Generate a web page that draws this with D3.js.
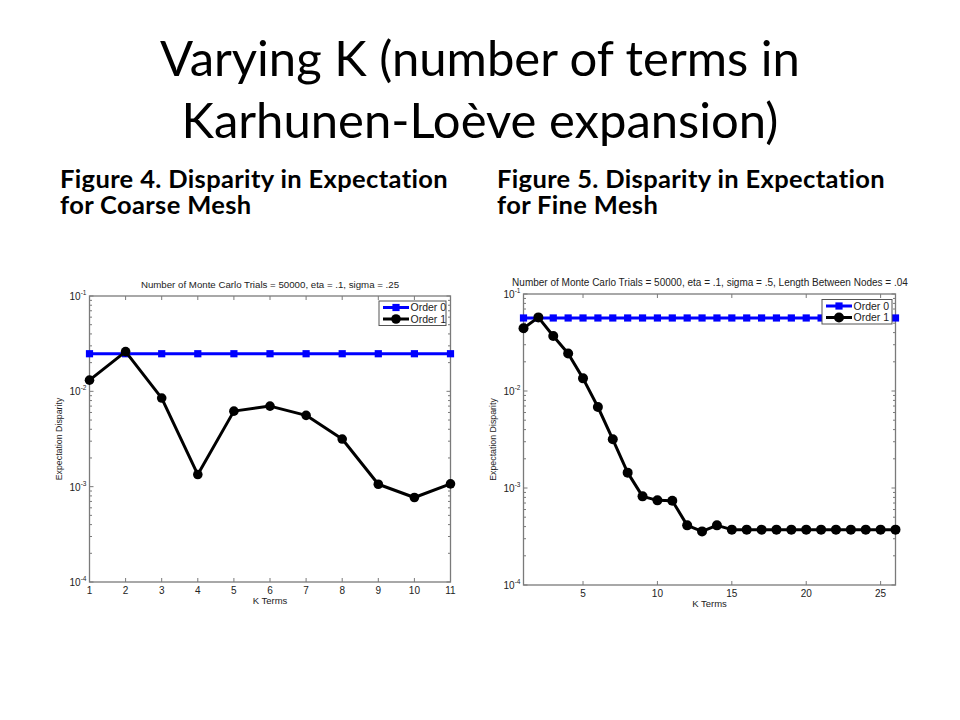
<!DOCTYPE html>
<html lang="en">
  <head>
    <meta charset="utf-8"/>
    <script src="https://d3js.org/d3.v7.min.js"></script>
    <style>
      body { margin: 0; background: #fff; }
      .slide-title { font-family: Lato, "Open Sans", sans-serif; font-size: 49px; fill: #000; text-anchor: middle; }
      .caption { font-family: Lato, "Open Sans", sans-serif; font-weight: bold; font-size: 25.5px; letter-spacing: 0.35px; fill: #000; }
      .panel text { font-family: "Liberation Sans", Arial, sans-serif; fill: #222; }
    </style>
  </head>
  <body>
    <svg id="slide" width="960" height="720"></svg>
  </body>
  <script>
    // coarse mesh (Figure 4)
    const coarseK = [1, 2, 3, 4, 5, 6, 7, 8, 9, 10, 11];
    const coarseOrder0 = [0.0248, 0.0248, 0.0248, 0.0248, 0.0248, 0.0248, 0.0248, 0.0248, 0.0248, 0.0248, 0.0248];
    const coarseOrder1 = [0.0131, 0.0261, 0.0085, 0.00134, 0.0062, 0.0070, 0.0056, 0.00316, 0.00106, 0.00077, 0.00107];
    const coarseXTicks = [1, 2, 3, 4, 5, 6, 7, 8, 9, 10, 11];

    // fine mesh (Figure 5)
    const fineK = [1, 2, 3, 4, 5, 6, 7, 8, 9, 10, 11, 12, 13, 14, 15, 16, 17, 18, 19, 20, 21, 22, 23, 24, 25, 26];
    const fineOrder0 = [0.0566, 0.0566, 0.0566, 0.0566, 0.0566, 0.0566, 0.0566, 0.0566, 0.0566, 0.0566, 0.0566, 0.0566, 0.0566,
                        0.0566, 0.0566, 0.0566, 0.0566, 0.0566, 0.0566, 0.0566, 0.0566, 0.0566, 0.0566, 0.0566, 0.0566, 0.0566];
    const fineOrder1 = [0.0443, 0.0574, 0.0369, 0.0244, 0.0135, 0.00684, 0.00318, 0.00144, 0.00082, 0.000746, 0.00074, 0.000412, 0.000357,
                        0.000412, 0.000372, 0.000372, 0.000372, 0.000372, 0.000372, 0.000372, 0.000372, 0.000372, 0.000372, 0.000372, 0.000372, 0.000372];
    const fineXTicks = [5, 10, 15, 20, 25];

    const yDecades = [1e-1, 1e-2, 1e-3, 1e-4];
    const yExponents = ["-1", "-2", "-3", "-4"];
    const legendNames = ["Order 0", "Order 1"];

    const svg = d3.select("#slide");
    svg.append("rect").attr("width", 960).attr("height", 720).attr("fill", "#fff");

    svg.append("text").attr("class", "slide-title").attr("x", 480).attr("y", 76)
      .text("Varying K (number of terms in");
    svg.append("text").attr("class", "slide-title").attr("x", 480).attr("y", 138)
      .text("Karhunen-Loève expansion)");

    // one text block per caption, lines as tspans
    function caption(x, lines) {
      const t = svg.append("text").attr("class", "caption").attr("x", x).attr("y", 188);
      lines.forEach(function(s, i) {
        t.append("tspan").attr("x", x).attr("dy", i === 0 ? 0 : 26).text(s);
      });
    }
    caption(60, ["Figure 4. Disparity in Expectation", "for Coarse Mesh"]);
    caption(497, ["Figure 5. Disparity in Expectation", "for Fine Mesh"]);

    function drawPanel(cfg) {
      const g = svg.append("g").attr("class", "panel");
      const x = d3.scaleLinear().domain(cfg.xDomain).range([cfg.left, cfg.right]);
      const y = d3.scaleLog().domain([1e-4, 1e-1]).range([cfg.bottom, cfg.top]);
      const axisColor = "#7a7a7a";

      // minor and major ticks on all four sides, pointing inward
      const minor = [];
      [1e-4, 1e-3, 1e-2].forEach(function(d) {
        for (let m = 2; m <= 9; m++) minor.push(d * m);
      });
      const ticks = g.append("g").attr("stroke", axisColor).attr("stroke-width", 1);
      minor.forEach(function(v) {
        ticks.append("line").attr("x1", cfg.left).attr("x2", cfg.left + 2.5).attr("y1", y(v)).attr("y2", y(v));
        ticks.append("line").attr("x1", cfg.right).attr("x2", cfg.right - 2.5).attr("y1", y(v)).attr("y2", y(v));
      });
      yDecades.forEach(function(v) {
        ticks.append("line").attr("x1", cfg.left).attr("x2", cfg.left + 4).attr("y1", y(v)).attr("y2", y(v));
        ticks.append("line").attr("x1", cfg.right).attr("x2", cfg.right - 4).attr("y1", y(v)).attr("y2", y(v));
      });
      cfg.xTicks.forEach(function(v) {
        ticks.append("line").attr("x1", x(v)).attr("x2", x(v)).attr("y1", cfg.bottom).attr("y2", cfg.bottom - 4);
        ticks.append("line").attr("x1", x(v)).attr("x2", x(v)).attr("y1", cfg.top).attr("y2", cfg.top + 4);
      });

      g.append("rect")
        .attr("x", cfg.left).attr("y", cfg.top)
        .attr("width", cfg.right - cfg.left).attr("height", cfg.bottom - cfg.top)
        .attr("fill", "none").attr("stroke", axisColor).attr("stroke-width", 1.3);

      // tick labels
      g.selectAll(".xlab").data(cfg.xTicks).enter().append("text")
        .attr("x", function(d) { return x(d); })
        .attr("y", cfg.bottom + 12)
        .attr("text-anchor", "middle")
        .attr("font-size", 10)
        .text(function(d) { return d; });

      yDecades.forEach(function(v, i) {
        const t = g.append("text")
          .attr("x", cfg.left - 20).attr("y", y(v) + 4)
          .attr("font-size", 10);
        t.append("tspan").text("10");
        t.append("tspan").attr("dy", -5).attr("font-size", 6.5).text(yExponents[i]);
      });

      g.append("text")
        .attr("x", (cfg.left + cfg.right) / 2).attr("y", cfg.bottom + 22)
        .attr("text-anchor", "middle").attr("font-size", 9.5)
        .text("K Terms");

      g.append("text")
        .attr("transform", "translate(" + cfg.yLabelX + "," + ((cfg.top + cfg.bottom) / 2) + ") rotate(-90)")
        .attr("text-anchor", "middle").attr("font-size", 8.8)
        .text("Expectation Disparity");

      g.append("text")
        .attr("x", cfg.titleX).attr("y", cfg.top - 8)
        .attr("text-anchor", "middle").attr("font-size", cfg.titleSize)
        .text(cfg.title);

      // series
      const line = d3.line()
        .x(function(d) { return x(d[0]); })
        .y(function(d) { return y(d[1]); });

      const s0 = cfg.k.map(function(k, i) { return [k, cfg.order0[i]]; });
      const s1 = cfg.k.map(function(k, i) { return [k, cfg.order1[i]]; });

      g.append("path").datum(s0).attr("d", line)
        .attr("fill", "none").attr("stroke", "#0000ff").attr("stroke-width", 3);
      g.selectAll(".sq").data(s0).enter().append("rect")
        .attr("x", function(d) { return x(d[0]) - 3.6; })
        .attr("y", function(d) { return y(d[1]) - 3.6; })
        .attr("width", 7.2).attr("height", 7.2)
        .attr("fill", "#0000ff");

      g.append("path").datum(s1).attr("d", line)
        .attr("fill", "none").attr("stroke", "#000").attr("stroke-width", 3)
        .attr("stroke-linejoin", "round");
      g.selectAll(".dot").data(s1).enter().append("circle")
        .attr("cx", function(d) { return x(d[0]); })
        .attr("cy", function(d) { return y(d[1]); })
        .attr("r", cfg.dotR)
        .attr("fill", "#000");

      // legend
      const lg = g.append("g").attr("transform", "translate(" + cfg.legend[0] + "," + cfg.legend[1] + ")");
      lg.append("rect").attr("width", cfg.legend[2]).attr("height", 24.5)
        .attr("fill", "#fff").attr("stroke", "#555").attr("stroke-width", 1);
      const colors = ["#0000ff", "#000"];
      legendNames.forEach(function(name, i) {
        const yy = 6.5 + i * 11.5;
        lg.append("line").attr("x1", 4).attr("x2", 30).attr("y1", yy).attr("y2", yy)
          .attr("stroke", colors[i]).attr("stroke-width", 3);
        if (i === 0) {
          lg.append("rect").attr("x", 17 - 3.6).attr("y", yy - 3.6).attr("width", 7.2).attr("height", 7.2).attr("fill", colors[i]);
        } else {
          lg.append("circle").attr("cx", 17).attr("cy", yy).attr("r", cfg.dotR).attr("fill", colors[i]);
        }
        lg.append("text").attr("x", 31.5).attr("y", yy + 3.6).attr("font-size", 10.5).text(name);
      });
    }

    drawPanel({
      left: 89.5, right: 450.5, top: 296, bottom: 582,
      xDomain: [1, 11], xTicks: coarseXTicks,
      k: coarseK, order0: coarseOrder0, order1: coarseOrder1,
      title: "Number of Monte Carlo Trials = 50000, eta = .1, sigma = .25",
      titleX: 270, titleSize: 9.7,
      yLabelX: 62, dotR: 4.8,
      legend: [379, 301, 67]
    });

    drawPanel({
      left: 523.5, right: 895.5, top: 294, bottom: 585,
      xDomain: [1, 26], xTicks: fineXTicks,
      k: fineK, order0: fineOrder0, order1: fineOrder1,
      title: "Number of Monte Carlo Trials = 50000, eta = .1, sigma = .5, Length Between Nodes = .04",
      titleX: 710, titleSize: 10,
      yLabelX: 496, dotR: 5,
      legend: [822, 299.5, 70]
    });
  </script>
</html>
